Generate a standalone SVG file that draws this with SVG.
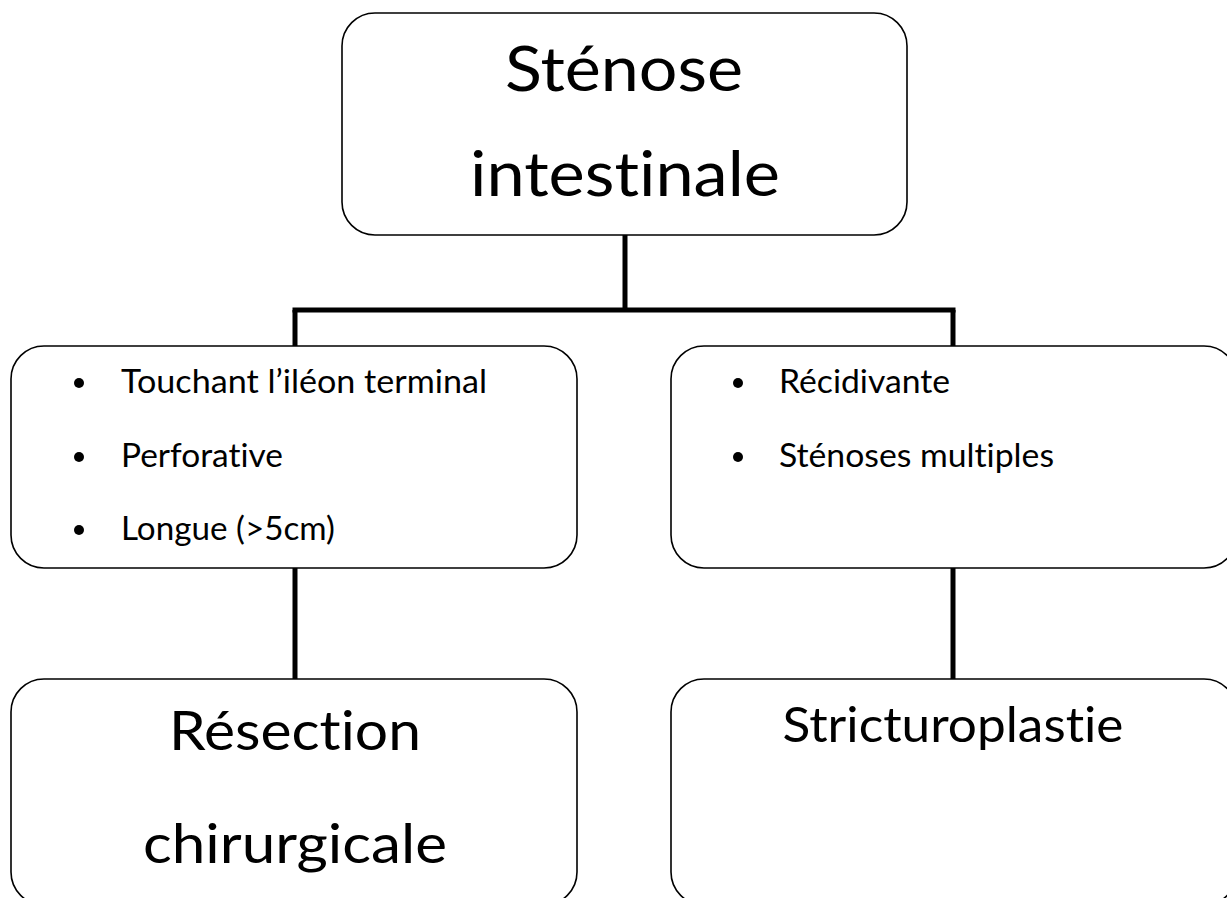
<svg xmlns="http://www.w3.org/2000/svg" width="1227" height="898" viewBox="0 0 1227 898">
<style>
.box{fill:#fff;stroke:#000;stroke-width:1.6}
.con{stroke:#000;stroke-width:5;fill:none}
text{font-family:Lato,"Open Sans","Liberation Sans",sans-serif;fill:#000;font-variant-ligatures:none;font-feature-settings:"liga" 0,"clig" 0}
.big{font-size:61px;text-anchor:middle}
.res{font-size:54px;text-anchor:middle}
.str{font-size:49px;text-anchor:middle}
.item{font-size:32px}
.dot{fill:#000}
</style>
<rect width="1227" height="898" fill="#fff"/>
<g id="connectors">
<line class="con" x1="625" y1="235" x2="625" y2="310"/>
<line class="con" x1="292.5" y1="310" x2="955.5" y2="310"/>
<line class="con" x1="295" y1="310" x2="295" y2="347"/>
<line class="con" x1="953" y1="310" x2="953" y2="347"/>
<line class="con" x1="295" y1="568" x2="295" y2="679"/>
<line class="con" x1="953" y1="568" x2="953" y2="679"/>
</g>
<g id="node-stenose">
<rect class="box" x="342" y="13" width="565" height="222" rx="33" ry="33"/>
<text class="big" x="624" y="91" textLength="238" lengthAdjust="spacingAndGlyphs">Sténose</text>
<text class="big" x="625" y="196" textLength="310" lengthAdjust="spacingAndGlyphs">intestinale</text>
</g>
<g id="node-criteres-resection">
<rect class="box" x="11" y="346" width="566" height="222" rx="33" ry="33"/>
<circle class="dot" cx="79" cy="383" r="5"/>
<text class="item" x="121" y="393" textLength="366" lengthAdjust="spacingAndGlyphs">Touchant l’iléon terminal</text>
<circle class="dot" cx="79" cy="457" r="5"/>
<text class="item" x="121" y="467" textLength="162" lengthAdjust="spacingAndGlyphs">Perforative</text>
<circle class="dot" cx="79" cy="530" r="5"/>
<text class="item" x="121" y="540" textLength="214" lengthAdjust="spacingAndGlyphs">Longue (&gt;5cm)</text>
</g>
<g id="node-criteres-stricturoplastie">
<rect class="box" x="671" y="346" width="566" height="222" rx="33" ry="33"/>
<circle class="dot" cx="738" cy="383" r="5"/>
<text class="item" x="779" y="393" textLength="171" lengthAdjust="spacingAndGlyphs">Récidivante</text>
<circle class="dot" cx="738" cy="457" r="5"/>
<text class="item" x="779" y="467" textLength="275" lengthAdjust="spacingAndGlyphs">Sténoses multiples</text>
</g>
<g id="node-resection">
<rect class="box" x="11" y="679" width="566" height="226" rx="33" ry="33"/>
<text class="res" x="295" y="750" textLength="252" lengthAdjust="spacingAndGlyphs">Résection</text>
<text class="res" x="295" y="863" textLength="304" lengthAdjust="spacingAndGlyphs">chirurgicale</text>
</g>
<g id="node-stricturoplastie">
<rect class="box" x="671" y="679" width="566" height="226" rx="33" ry="33"/>
<text class="str" x="953" y="742" textLength="341" lengthAdjust="spacingAndGlyphs">Stricturoplastie</text>
</g>
</svg>
